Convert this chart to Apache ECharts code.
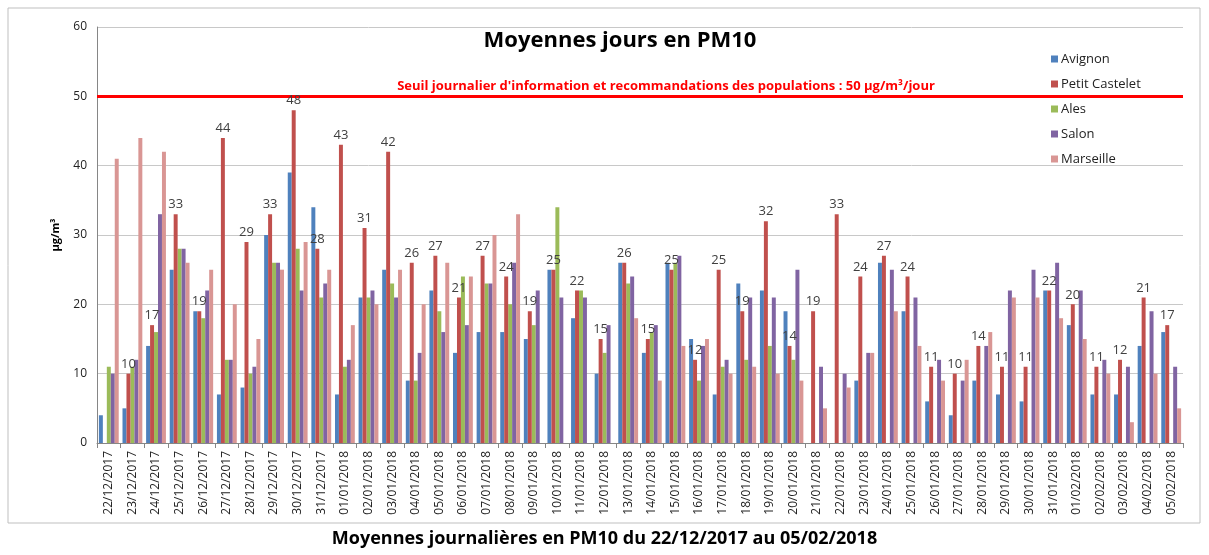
<!DOCTYPE html>
<html>
<head>
<meta charset="utf-8">
<script src="https://cdn.jsdelivr.net/npm/echarts@6/dist/echarts.min.js"></script>
<style>
  html, body { margin: 0; padding: 0; background: #fff; }
  #chart { width: 1209px; height: 555px; }
</style>
</head>
<body>
<div id="chart"></div>
<script>
const dates = [
  '22/12/2017', '23/12/2017', '24/12/2017', '25/12/2017', '26/12/2017', '27/12/2017',
  '28/12/2017', '29/12/2017', '30/12/2017', '31/12/2017', '01/01/2018', '02/01/2018',
  '03/01/2018', '04/01/2018', '05/01/2018', '06/01/2018', '07/01/2018', '08/01/2018',
  '09/01/2018', '10/01/2018', '11/01/2018', '12/01/2018', '13/01/2018', '14/01/2018',
  '15/01/2018', '16/01/2018', '17/01/2018', '18/01/2018', '19/01/2018', '20/01/2018',
  '21/01/2018', '22/01/2018', '23/01/2018', '24/01/2018', '25/01/2018', '26/01/2018',
  '27/01/2018', '28/01/2018', '29/01/2018', '30/01/2018', '31/01/2018', '01/02/2018',
  '02/02/2018', '03/02/2018', '04/02/2018', '05/02/2018'
];

const avignon = [4, 5, 14, 25, 19, 7, 8, 30, 39, 34, 7, 21, 25, 9, 22, 13, 16, 16, 15, 25,
  18, 10, 26, 13, 26, 15, 7, 23, 22, 19, null, null, 9, 26, 19, 6, 4, 9, 7, 6,
  22, 17, 7, 7, 14, 16];
const petitCastelet = [null, 10, 17, 33, 19, 44, 29, 33, 48, 28, 43, 31, 42, 26, 27, 21, 27, 24, 19, 25,
  22, 15, 26, 15, 25, 12, 25, 19, 32, 14, 19, 33, 24, 27, 24, 11, 10, 14, 11, 11,
  22, 20, 11, 12, 21, 17];
const ales = [11, 11, 16, 28, 18, 12, 10, 26, 28, 21, 11, 21, 23, 9, 19, 24, 23, 20, 17, 34,
  22, 13, 23, 16, 26, 9, 11, 12, 14, 12, null, null, null, null, null, null, null, null, null, null,
  null, null, null, null, null, null];
const salon = [10, 12, 33, 28, 22, 12, 11, 26, 22, 23, 12, 22, 21, 13, 16, 17, 23, 26, 22, 21,
  21, 17, 24, 17, 27, 14, 12, 21, 21, 25, 11, 10, 13, 25, 21, 12, 9, 14, 22, 25,
  26, 22, 12, 11, 19, 11];
const marseille = [41, 44, 42, 26, 25, 20, 15, 25, 29, 25, 17, 20, 25, 20, 26, 24, 30, 33, null, null,
  null, null, 18, 9, 14, 15, 10, 11, 10, 9, 5, 8, 13, 19, 14, 9, 12, 16, 21, 21,
  18, 15, 10, 3, 10, 5];

const seuil = 50;
const yTicks = [0, 10, 20, 30, 40, 50, 60];

const FONT = '"Open Sans", "Noto Sans", sans-serif';
const chart = echarts.init(document.getElementById('chart'));

function barSeries(name, data, color, withLabel) {
  return {
    name: name,
    type: 'bar',
    data: data,
    barGap: '0%',
    barCategoryGap: '16%',
    z: withLabel ? 5 : 2,
    itemStyle: { color: color },
    label: withLabel ? {
      show: true,
      position: 'top',
      distance: 3,
      color: '#404040',
      fontSize: 13,
      fontFamily: FONT
    } : { show: false }
  };
}

const series = [
  barSeries('Avignon', avignon, '#4F81BD', false),
  barSeries('Petit Castelet', petitCastelet, '#C0504D', true),
  barSeries('Ales', ales, '#9BBB59', false),
  barSeries('Salon', salon, '#8064A2', false),
  barSeries('Marseille', marseille, '#D99694', false)
];

// ligne de seuil
series[0].markLine = {
  silent: true,
  symbol: 'none',
  lineStyle: { color: '#FF0000', width: 3, type: 'solid' },
  label: {
    show: true,
    position: 'middle',
    formatter: "Seuil journalier d'information et recommandations des populations : 50 µg/m³/jour",
    color: '#FF0000',
    fontWeight: 'bold',
    fontSize: 13,
    fontFamily: FONT,
    distance: 4,
    offset: [26, 0]
  },
  data: [{ yAxis: seuil }]
};

chart.setOption({
  animation: false,
  textStyle: { fontFamily: FONT },
  title: {
    text: 'Moyennes jours en PM10',
    left: 615,
    top: 25,
    textAlign: 'center',
    textStyle: { fontSize: 22, fontWeight: 'bold', color: '#000', fontFamily: FONT }
  },
  legend: {
    orient: 'vertical',
    left: 1046,
    top: 45,
    itemGap: 7,
    itemWidth: 7,
    itemHeight: 7,
    icon: 'rect',
    textStyle: { fontSize: 13, color: '#222', fontFamily: FONT, lineHeight: 18, padding: [0, 0, 0, -2] }
  },
  graphic: [
    {
      type: 'rect',
      shape: { x: 8, y: 8, width: 1192, height: 515 },
      style: { fill: 'none', stroke: '#bfbfbf', lineWidth: 1 },
      z: -1
    },
    {
      type: 'text',
      left: 'center',
      top: 530,
      style: {
        text: 'Moyennes journalières en PM10 du 22/12/2017 au 05/02/2018',
        fontSize: 18,
        fontWeight: 'bold',
        fontFamily: FONT,
        fill: '#000'
      }
    }
  ],
  grid: { left: 97, right: 26, top: 27, bottom: 112 },
  xAxis: {
    type: 'category',
    data: dates,
    axisLine: { lineStyle: { color: '#868686' } },
    axisTick: { show: true, length: 5, lineStyle: { color: '#868686' } },
    splitLine: { show: false },
    axisLabel: {
      interval: 0,
      rotate: 90,
      fontSize: 12,
      color: '#222',
      margin: 8,
      fontFamily: FONT
    }
  },
  yAxis: {
    type: 'value',
    min: yTicks[0],
    max: yTicks[yTicks.length - 1],
    interval: 10,
    name: 'µg/m³',
    nameLocation: 'middle',
    nameGap: 36,
    nameRotate: 90,
    nameTextStyle: { fontSize: 11, fontWeight: 'bold', color: '#000', fontFamily: FONT },
    axisLine: { show: true, lineStyle: { color: '#868686' } },
    axisTick: { show: false },
    axisLabel: { fontSize: 12, color: '#222', margin: 10, fontFamily: FONT },
    splitLine: { lineStyle: { color: '#c8c8c8', width: 1 } }
  },
  series: series
});
</script>
</body>
</html>
